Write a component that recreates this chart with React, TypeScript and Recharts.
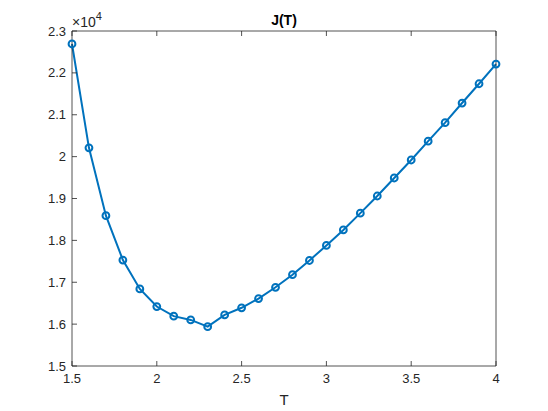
import React from "react";
import { LineChart, Line, XAxis, YAxis } from "recharts";

const temps = [1.5, 1.6, 1.7, 1.8, 1.9, 2.0, 2.1, 2.2, 2.3, 2.4, 2.5, 2.6, 2.7, 2.8, 2.9, 3.0, 3.1, 3.2, 3.3, 3.4, 3.5, 3.6, 3.7, 3.8, 3.9, 4.0];
const jValues = [
  22690, 20210, 18590, 17530, 16840, 16420, 16190, 16100, 15940, 16220, 16390, 16610, 16880,
  17180, 17520, 17880, 18250, 18650, 19060, 19490, 19920, 20370, 20810, 21280, 21740, 22210,
];
const xTicks = [1.5, 2, 2.5, 3, 3.5, 4];
const yTicks = [15000, 16000, 17000, 18000, 19000, 20000, 21000, 22000, 23000];

const data = temps.map((T, i) => ({ T, J: jValues[i] }));

const FONT = "'Liberation Sans', Arial, sans-serif";
const AXIS = "#262626";
const BLUE = "#0072BD";

const tickStyle = { fill: AXIS, fontSize: 13, fontFamily: FONT };
const blank = () => "";

export default function App() {
  return (
    <div style={{ position: "absolute", left: 0, top: 0, background: "#fff" }}>
      <LineChart width={548} height={411} data={data} margin={{ top: 30, right: 51, bottom: 44, left: 71 }}>
        <XAxis
          dataKey="T"
          type="number"
          domain={[1.5, 4]}
          ticks={xTicks}
          height={1}
          stroke={AXIS}
          strokeWidth={0.8}
          tickSize={-5}
          tickMargin={13}
          tick={tickStyle}
          label={{
            content: ({ viewBox }: any) => (
              <text x={viewBox.x + viewBox.width / 2} y={405} textAnchor="middle" fontSize={15} fontFamily={FONT} fill={AXIS}>
                T
              </text>
            ),
          }}
        />
        <XAxis
          xAxisId="top"
          orientation="top"
          dataKey="T"
          type="number"
          domain={[1.5, 4]}
          ticks={xTicks}
          height={1}
          stroke={AXIS}
          strokeWidth={0.8}
          tickSize={-5}
          tickFormatter={blank}
          label={{
            content: ({ viewBox }: any) => (
              <text x={viewBox.x + viewBox.width / 2} y={25} textAnchor="middle" fontSize={14} fontWeight="bold" fontFamily={FONT} fill="#000">
                J(T)
              </text>
            ),
          }}
        />
        <YAxis
          type="number"
          domain={[15000, 23000]}
          ticks={yTicks}
          width={1}
          stroke={AXIS}
          strokeWidth={0.8}
          tickSize={-5}
          tickMargin={11}
          tick={tickStyle}
          tickFormatter={(v: number) => String(v / 10000)}
          label={{
            content: ({ viewBox }: any) => (
              <text x={viewBox.x + 1} y={viewBox.y - 4} fontSize={14} fontFamily={FONT} fill={AXIS}>
                ×10
                <tspan dy={-7} fontSize={11}>
                  4
                </tspan>
              </text>
            ),
          }}
        />
        <YAxis
          yAxisId="right"
          orientation="right"
          type="number"
          domain={[15000, 23000]}
          ticks={yTicks}
          width={1}
          stroke={AXIS}
          strokeWidth={0.8}
          tickSize={-5}
          tickFormatter={blank}
        />
        <Line
          dataKey="J"
          stroke={BLUE}
          strokeWidth={2}
          dot={{ r: 3.4, stroke: BLUE, strokeWidth: 2, fill: "none" }}
          activeDot={false}
          isAnimationActive={false}
        />
      </LineChart>
    </div>
  );
}
